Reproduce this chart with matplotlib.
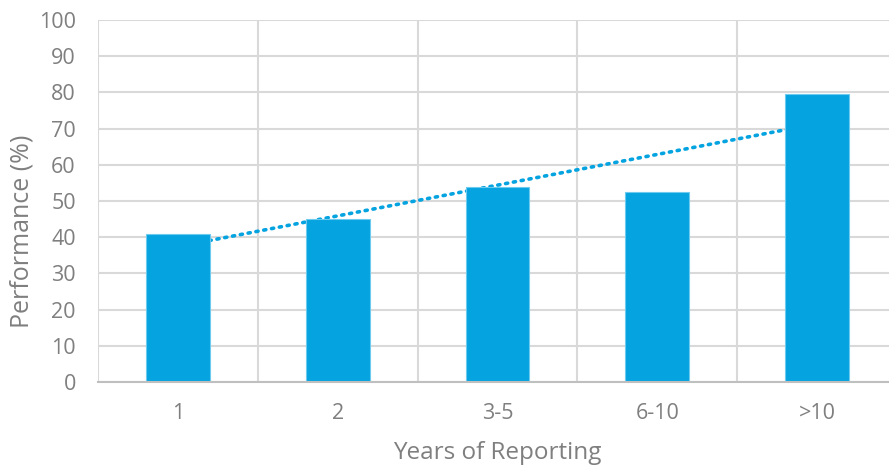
import numpy as np
import matplotlib.pyplot as plt

plt.rcParams['font.family'] = ['Open Sans', 'DejaVu Sans']

categories = ['1', '2', '3-5', '6-10', '>10']
performance = [40.9, 45.0, 53.9, 52.5, 79.6]

bar_color = '#05A3E0'
grid_color = '#D9D9D9'
text_color = '#7F7F7F'

fig = plt.figure(figsize=(8.89, 4.65), dpi=100)
ax = fig.add_axes([98/889, 1-382/465, 799/889, 362/465])

x = np.arange(len(categories))

# linear trend behind the bars, center to center
k, b = np.polyfit(x, performance, 1)
ax.plot(x, k*x + b, color=bar_color, lw=2.6, ls=(0, (0.6, 1.6)),
        dash_capstyle='round', zorder=1)

ax.bar(x, performance, width=0.4, color=bar_color,
       edgecolor='#6CCBEF', linewidth=0.8, zorder=2)

ax.set_xlim(-0.5, len(categories) - 0.5)
ax.set_ylim(0, 100)
ax.set_yticks(np.arange(0, 101, 10))
ax.set_xticks(x)
ax.set_xticklabels(categories)
ax.set_xticks(np.arange(-0.5, len(categories), 1), minor=True)

ax.grid(axis='y', color=grid_color, lw=1.5, zorder=0)
ax.grid(axis='x', which='minor', color=grid_color, lw=1.5, zorder=0)
ax.set_axisbelow(True)

for s in ['top', 'right', 'left']:
    ax.spines[s].set_visible(False)
ax.spines['bottom'].set_color('#BFBFBF')
ax.spines['bottom'].set_linewidth(1.5)

ax.tick_params(which='both', length=0, colors=text_color, labelsize=15.5)
ax.tick_params(axis='y', pad=16)
ax.tick_params(axis='x', pad=15)

ax.set_xlabel('Years of Reporting', fontsize=17.5, color=text_color, labelpad=12)
ax.set_ylabel('Performance (%)', fontsize=18, color=text_color)
ax.yaxis.set_label_coords(-0.079, 0.417)

fig.savefig('out.png', dpi=100)
